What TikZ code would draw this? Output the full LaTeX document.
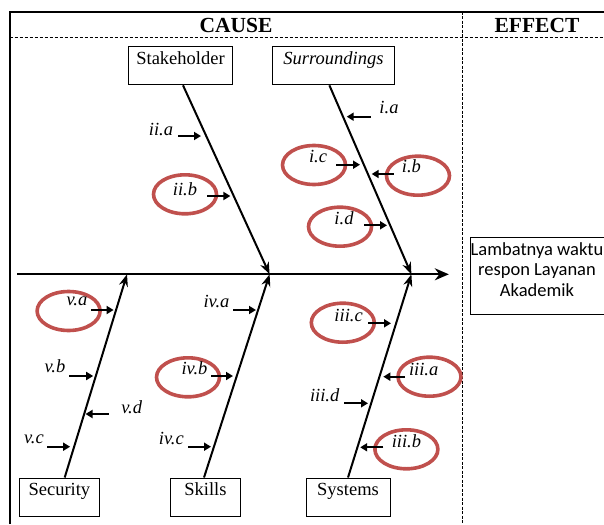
\documentclass[tikz,border=0pt]{standalone}
\usepackage{fontspec}
\setmainfont{Liberation Serif}
\newfontfamily\timesf{Liberation Serif}
\newfontfamily\calibri{Carlito}
\usetikzlibrary{arrows.meta,shapes.geometric}
\definecolor{ringred}{HTML}{C0504D}

\begin{document}
\begin{tikzpicture}[x=1pt, y=-1pt, line width=2pt,
  cat node/.style={rectangle,draw,line width=0.8pt,inner sep=0pt,text height=18pt,text depth=20pt,minimum height=38pt,font=\timesf\fontsize{18.5}{22}\selectfont},
  head node/.style={font=\timesf\fontsize{21.5}{24}\selectfont\bfseries},
  ring/.style={ellipse,draw=ringred,line width=3.6pt,inner sep=0pt,minimum width=63pt,minimum height=39pt},
  bone/.style={-{Stealth[length=12pt,width=9pt]}},
  sub arrow/.style={-{Triangle[length=7pt,width=8pt]},line width=2.2pt}]
\useasboundingbox (0,0) rectangle (604,524);
% frame
\draw[line width=1.8pt] (9.6,524) -- (9.6,11.7) -- (604,11.7);
\draw[dash pattern=on 3pt off 2pt, line width=1.4pt] (9.6,37.3) -- (604,37.3);
\draw[dash pattern=on 3pt off 1.5pt, line width=1.8pt] (462.5,11.7) -- (462.5,524);
\node [head node](cause) at (236,25) {CAUSE};
\node [head node](effhead) at (537,25) {EFFECT};
% categories
\node [cat node, minimum width=103.6pt](stake) at (180.5,65.9) {Stakeholder};
\node [cat node, minimum width=122.5pt](surr) at (333.5,65.9) {\itshape Surroundings};
\node [cat node, minimum width=80pt](secu) at (59.4,496.9) {Security};
\node [cat node, minimum width=70.8pt](skill) at (205.4,496.9) {Skills};
\node [cat node, minimum width=84pt](syst) at (348,496.9) {Systems};
% effect
\node [draw, line width=0.8pt, minimum width=136pt, minimum height=76.7pt, inner sep=0pt](effbox) at (538,275.7) {};
\node [font=\calibri\fontsize{18.5}{20.5}\selectfont, align=center](efftext) at (537,269.5) {Lambatnya waktu\\respon Layanan\\Akademik};
% spine
\coordinate (tail) at (17.3,274.3);
\coordinate (head) at (448.8,274.3);
\coordinate (j1) at (127,274.3);
\coordinate (j2) at (269.6,274.3);
\coordinate (j3) at (411.4,274.3);
\path
	(tail) edge[-{Stealth[length=14pt,width=12pt]}] (head)
	([xshift=2.5pt]stake.south) edge[bone] (j2)
	([xshift=-4.1pt]surr.south) edge[bone] (j3)
	([xshift=5.3pt]secu.north) edge[bone] (j1)
	([xshift=-1.4pt]skill.north) edge[bone] (j2)
	(syst.north) edge[bone] (j3)
	;
% rings
\node [ring](ric) at (314,165) {};
\node [ring](rib) at (418,175.7) {};
\node [ring](riib) at (185,194.3) {};
\node [ring](rid) at (340,226.7) {};
\node [ring](rva) at (68.6,311) {};
\node [ring](riiic) at (342.8,322.7) {};
\node [ring](rivb) at (188,377.3) {};
\node [ring](riiia) at (429.5,376.7) {};
\node [ring](riiib) at (406.4,449.3) {};
% sub causes
\begin{scope}[every node/.style={font=\timesf\itshape\fontsize{18.5}{22}\selectfont,inner sep=0pt}]
\node (ia) at (389,108) {i.a};
\node (iia) at (161,130) {ii.a};
\node (ic) at (318,156.7) {i.c};
\node (ib) at (411.4,166.7) {i.b};
\node (iib) at (185,189) {ii.b};
\node (id) at (344,218.3) {i.d};
\node (va) at (77,301.7) {v.a};
\node (iva) at (216.5,301.7) {iv.a};
\node (iiic) at (348.6,316) {iii.c};
\node (vb) at (55,366.7) {v.b};
\node (ivb) at (194.5,368.3) {iv.b};
\node (iiia) at (423.7,369.3) {iii.a};
\node (iiid) at (324.7,395.7) {iii.d};
\node (vd) at (131.7,407.3) {v.d};
\node (vc) at (33.9,439) {v.c};
\node (ivc) at (171.4,438.3) {iv.c};
\node (iiib) at (406.4,441.7) {iii.b};
\end{scope}
\coordinate (ia1) at (370.6,116.7); \coordinate (ia2) at (346.7,116.7);
\coordinate (iia1) at (178,136); \coordinate (iia2) at (201,136);
\coordinate (ic1) at (336,164.7); \coordinate (ic2) at (360,164.7);
\coordinate (ib1) at (393.7,174); \coordinate (ib2) at (371.7,174);
\coordinate (iib1) at (207,196); \coordinate (iib2) at (230.4,196);
\coordinate (id1) at (364,225.3); \coordinate (id2) at (387,225.3);
\coordinate (va1) at (91.3,310); \coordinate (va2) at (113.6,310);
\coordinate (iva1) at (233,310); \coordinate (iva2) at (256,310);
\coordinate (iiic1) at (368,323.3); \coordinate (iiic2) at (391,323.3);
\coordinate (vb1) at (69.3,376); \coordinate (vb2) at (93.2,376);
\coordinate (ivb1) at (211,376); \coordinate (ivb2) at (233,376);
\coordinate (iiia1) at (405,376.7); \coordinate (iiia2) at (383.3,376.7);
\coordinate (iiid1) at (344,403.3); \coordinate (iiid2) at (368,403.3);
\coordinate (vd1) at (108.6,414); \coordinate (vd2) at (85.5,414);
\coordinate (vc1) at (47.4,446.7); \coordinate (vc2) at (70.1,446.7);
\coordinate (ivc1) at (188,446.7); \coordinate (ivc2) at (211,446.7);
\coordinate (iiib1) at (383.3,447.3); \coordinate (iiib2) at (360.2,447.3);
\path[sub arrow]
	(ia1) edge (ia2)
	(iia1) edge (iia2)
	(ic1) edge (ic2)
	(ib1) edge (ib2)
	(iib1) edge (iib2)
	(id1) edge (id2)
	(va1) edge (va2)
	(iva1) edge (iva2)
	(iiic1) edge (iiic2)
	(vb1) edge (vb2)
	(ivb1) edge (ivb2)
	(iiia1) edge (iiia2)
	(iiid1) edge (iiid2)
	(vd1) edge (vd2)
	(vc1) edge (vc2)
	(ivc1) edge (ivc2)
	(iiib1) edge (iiib2)
	;
\end{tikzpicture}
\end{document}
